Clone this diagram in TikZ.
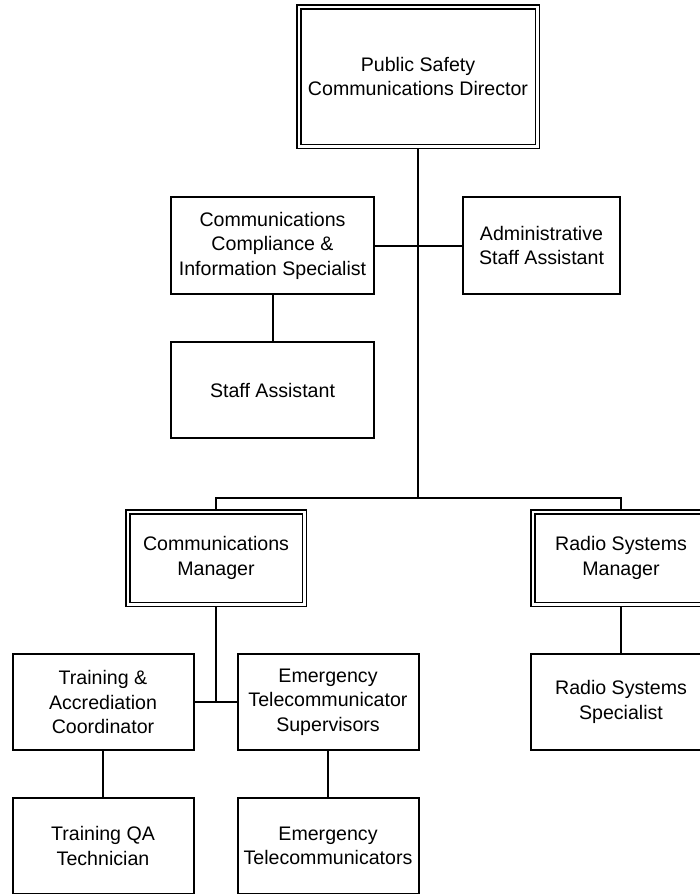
\documentclass[tikz,border=0pt]{standalone}
\usepackage{fontspec}
\setmainfont{Liberation Sans}
\usetikzlibrary{positioning}
\begin{document}
\begin{tikzpicture}[x=1pt,y=-1pt,
  box/.style={draw,line width=2pt,outer sep=0pt,inner sep=2pt,align=center,font=\fontsize{19.6}{24.5}\selectfont,minimum width=#1,minimum height=96pt},
  box/.default=181pt,
  dbox/.style={draw,line width=1.5pt,double,double distance=2.5pt,outer sep=2.75pt,inner sep=2pt,align=center,font=\fontsize{19.6}{24.5}\selectfont,minimum width=176.5pt,minimum height=92.5pt},
  link/.style={line width=2pt}]
  \useasboundingbox (0,0) rectangle (700,894);
  \clip (0,0) rectangle (700,894);
  \node[dbox,minimum width=238.5pt,minimum height=139.5pt] (n1) at (418,76.5) {Public Safety\\Communications Director};
  \node[box=203pt,minimum height=97pt] (n2) at (272.5,245.5) {Communications\\Compliance \&\\Information Specialist};
  \node[box=157pt,minimum height=97pt,right=89pt of n2] (n3) {Administrative\\Staff Assistant};
  \node[box=203pt,below=48pt of n2] (n4) {Staff Assistant};
  \node[dbox] (n5) at (216,558) {Communications\\Manager};
  \node[dbox] (n6) at (621,558) {Radio Systems\\Manager};
  \node[box] (n7) at (103,702) {Training \&\\Accrediation\\Coordinator};
  \node[box,right=44pt of n7] (n8) {Emergency\\Telecommunicator\\Supervisors};
  \node[box,below=47pt of n6] (n9) {Radio Systems\\Specialist};
  \node[box,below=48pt of n7] (n10) {Training QA\\Technician};
  \node[box,below=48pt of n8] (n11) {Emergency\\Telecommunicators};
  \coordinate (j1) at (418,498);
  \coordinate (j2) at (216,702);
  \draw[link] (n1) -- (j1);
  \draw[link] (n2) -- (n3);
  \draw[link] (n2) -- (n4);
  \draw[link] (n5.north) |- (j1) -| (n6.north);
  \draw[link] (n5) -- (j2);
  \draw[link] (n7) -- (n8);
  \draw[link] (n6) -- (n9);
  \draw[link] (n7) -- (n10);
  \draw[link] (n8) -- (n11);
\end{tikzpicture}
\end{document}
